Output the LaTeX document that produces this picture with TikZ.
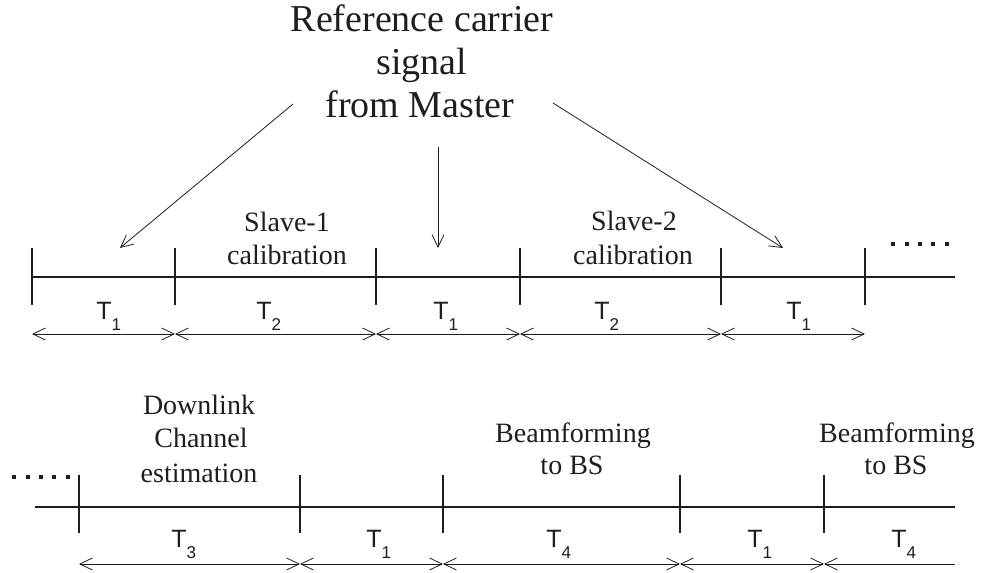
\documentclass[tikz,border=0pt]{standalone}
\usepackage{fontspec}
\setmainfont{Liberation Serif}
\newfontfamily\hv{Liberation Sans}
\usetikzlibrary{arrows.meta}
\definecolor{ink}{HTML}{1E1E1E}
\newcommand{\Tsub}[1]{T\raisebox{-8.2pt}{\fontsize{12.8}{14}\selectfont #1}}
\begin{document}
\begin{tikzpicture}[x=0.75pt,y=-0.75pt,
  axisline/.style={draw=ink,line width=0.9pt},
  tickmark/.style={draw=ink,line width=0.9pt},
  barb/.tip={Straight Barb[length=9.4pt,width=9pt,line width=0.6pt]},
  dimline/.style={draw=ink,line width=0.6pt,barb-barb},
  dimhalf/.style={draw=ink,line width=0.6pt,barb-},
  pointer/.style={draw=ink,line width=0.6pt,-barb},
  lbl/.style={font=\fontsize{21}{24}\selectfont,text=ink,inner sep=0pt,anchor=base},
  ttl/.style={font=\fontsize{28.5}{32}\selectfont,text=ink,inner sep=0pt,anchor=base},
  tlab/.style={font=\hv\fontsize{18.8}{20}\selectfont,text=ink,inner sep=0pt,anchor=base west},
  dotsq/.style={fill=ink,draw=none},
]
\useasboundingbox (0,0) rectangle (983,573);

% ---- title ----
\node[ttl] (t1) at (422,32) {Reference carrier};
\node[ttl] (t2) at (422,75) {signal};
\node[ttl] (t3) at (420,118) {from Master};

% ---- top timeline ----
\coordinate (a0) at (32,277);
\coordinate (a1) at (175,277);
\coordinate (a2) at (376,277);
\coordinate (a3) at (520,277);
\coordinate (a4) at (721,277);
\coordinate (a5) at (865,277);
\coordinate (aend) at (955,277);
\coordinate (dt) at (0,334);

\draw[axisline] (a0) -- (aend);
\foreach \c in {a0,a1,a2,a3,a4,a5}
  \draw[tickmark] ([yshift=21.75pt]\c) -- ([yshift=-21pt]\c);

\draw[dimline] (a0 |- dt) -- (a1 |- dt);
\draw[dimline] (a1 |- dt) -- (a2 |- dt);
\draw[dimline] (a2 |- dt) -- (a3 |- dt);
\draw[dimline] (a3 |- dt) -- (a4 |- dt);
\draw[dimline] (a4 |- dt) -- (a5 |- dt);

\node[tlab] (T1a) at (96,320) {\Tsub{1}};
\node[tlab] (T2a) at (256,320) {\Tsub{2}};
\node[tlab] (T1b) at (433,320) {\Tsub{1}};
\node[tlab] (T2b) at (594,320) {\Tsub{2}};
\node[tlab] (T1c) at (786,320) {\Tsub{1}};

\node[lbl] (s1a) at (287,232) {Slave-1};
\node[lbl] (s1b) at (287,265) {calibration};
\node[lbl] (s2a) at (634,231) {Slave-2};
\node[lbl] (s2b) at (633,265) {calibration};

\foreach \x in {893,907,920,933,947}
  \fill[dotsq] (\x-2.25,241.75) rectangle (\x+2.25,246.25);

% ---- pointers from title ----
\coordinate (pL) at (293,104);
\coordinate (pM) at (438,147);
\coordinate (pR) at (553,103);
\coordinate (qL) at (120,248);
\coordinate (qM) at (438,248);
\coordinate (qR) at (783,248);
\draw[pointer] (pL) -- (qL);
\draw[pointer] (pM) -- (qM);
\draw[pointer] (pR) -- (qR);

% ---- bottom timeline ----
\coordinate (bstart) at (35,507);
\coordinate (b0) at (79,507);
\coordinate (b1) at (300,507);
\coordinate (b2) at (443,507);
\coordinate (b3) at (680,507);
\coordinate (b4) at (824,507);
\coordinate (bend) at (955,507);
\coordinate (db) at (0,564);

\draw[axisline] (bstart) -- (bend);
\foreach \c in {b0,b1,b2,b3,b4}
  \draw[tickmark] ([yshift=24pt]\c) -- ([yshift=-19.5pt]\c);

\draw[dimline] (b0 |- db) -- (b1 |- db);
\draw[dimline] (b1 |- db) -- (b2 |- db);
\draw[dimline] (b2 |- db) -- (b3 |- db);
\draw[dimline] (b3 |- db) -- (b4 |- db);
\draw[dimhalf] (b4 |- db) -- (bend |- db);

\node[tlab] (T3d) at (171,548) {\Tsub{3}};
\node[tlab] (T1d) at (366,548) {\Tsub{1}};
\node[tlab] (T4d) at (546,548) {\Tsub{4}};
\node[tlab] (T1e) at (747,548) {\Tsub{1}};
\node[tlab] (T4e) at (891,548) {\Tsub{4}};

\node[lbl] (d1) at (199,415) {Downlink};
\node[lbl] (d2) at (201,448) {Channel};
\node[lbl] (d3) at (199,483) {estimation};
\node[lbl] (bf1) at (573,443) {Beamforming};
\node[lbl] (bf2) at (572,475) {to BS};
\node[lbl] (bf3) at (897,443) {Beamforming};
\node[lbl] (bf4) at (896,475) {to BS};

\foreach \x in {14,28,41,54,68}
  \fill[dotsq] (\x-2.25,474.75) rectangle (\x+2.25,479.25);
\end{tikzpicture}
\end{document}
